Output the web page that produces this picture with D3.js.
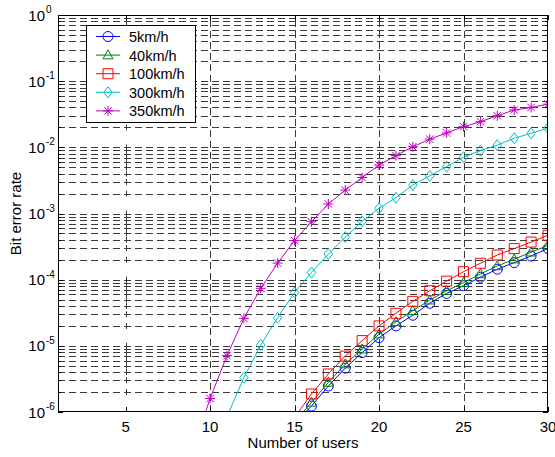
<!DOCTYPE html>
<html><head><meta charset="utf-8">
<script src="https://cdn.jsdelivr.net/npm/d3@7"></script>
<style>body{margin:0;background:#fff}svg{display:block}text{font-family:"Liberation Sans",Arial,sans-serif}</style>
</head><body><div id="chart"></div>
<script>
const users = [9,10,11,12,13,14,15,16,17,18,19,20,21,22,23,24,25,26,27,28,29,30];
const ber5   = [null,null,null,null,null,null,6.6e-7,1.23e-6,2.47e-6,4.6e-6,7.9e-6,1.33e-5,2.0e-5,2.9e-5,4.4e-5,6.2e-5,8.1e-5,1.09e-4,1.44e-4,1.81e-4,2.28e-4,2.95e-4];
const ber40  = [null,null,null,null,null,null,7.0e-7,1.4e-6,2.8e-6,5.3e-6,8.9e-6,1.5e-5,2.3e-5,3.4e-5,4.9e-5,6.8e-5,9.0e-5,1.22e-4,1.61e-4,2.04e-4,2.6e-4,3.3e-4];
const ber100 = [null,null,null,null,null,null,8.3e-7,1.87e-6,3.76e-6,7.0e-6,1.2e-5,2.0e-5,3.1e-5,4.7e-5,6.8e-5,9.5e-5,1.32e-4,1.77e-4,2.36e-4,2.95e-4,3.7e-4,4.7e-4];
const ber300 = [null,null,8.5e-7,3.3e-6,1.03e-5,2.66e-5,6.4e-5,1.28e-4,2.44e-4,4.4e-4,7.6e-4,1.2e-3,1.73e-3,2.7e-3,3.7e-3,5.1e-3,7.1e-3,8.9e-3,1.08e-2,1.37e-2,1.63e-2,1.94e-2];
const ber350 = [2.7e-7,1.6e-6,7.1e-6,2.6e-5,7.4e-5,1.78e-4,3.9e-4,7.5e-4,1.39e-3,2.26e-3,3.5e-3,5.4e-3,7.5e-3,1.02e-2,1.33e-2,1.65e-2,2.05e-2,2.44e-2,3.0e-2,3.67e-2,4.0e-2,4.5e-2];
const seriesNames = ["5km/h","40km/h","100km/h","300km/h","350km/h"];
const seriesValues = [ber5, ber40, ber100, ber300, ber350];
const seriesColors = ["#0000ff","#008000","#ff0000","#00bfbf","#bf00bf"];
const seriesMarkers = ["circle","triangle","square","diamond","star"];
const xTicks = [5,10,15,20,25,30];
const yDecades = [1e-6,1e-5,1e-4,1e-3,1e-2,1e-1,1e0];
const yExponents = ["-6","-5","-4","-3","-2","-1","0"];
const xDomain = [1,30];
const yDomain = [1e-6,1];

const W=555,H=457, m={l:58,r:7,t:15,b:45};
const FS=15;
const svg=d3.select("#chart").append("svg").attr("width",W).attr("height",H);
const x=d3.scaleLinear().domain(xDomain).range([m.l,W-m.r]);
const y=d3.scaleLog().domain(yDomain).range([H-m.b,m.t]);
const x0=x.range()[0],x1=x.range()[1],y0=y.range()[0],y1=y.range()[1];

svg.append("defs").append("clipPath").attr("id","clip").append("rect")
  .attr("x",x0).attr("y",y1).attr("width",x1-x0).attr("height",y0-y1);

const yGrid=[];
yDecades.forEach((d,i)=>{ if(i<yDecades.length-1){ for(let k=1;k<10;k++) yGrid.push(d*k);} else yGrid.push(d);});
const gridC="#3a3a3a";
const g=svg.append("g");
g.selectAll("line.hg").data(yGrid.filter(v=>v>yDomain[0]&&v<yDomain[1])).join("line")
  .attr("x1",x0).attr("x2",x1).attr("y1",d=>Math.round(y(d))+0.5).attr("y2",d=>Math.round(y(d))+0.5)
  .attr("stroke",gridC).attr("stroke-width",1).attr("stroke-dasharray","7,4");
g.selectAll("line.vg").data(xTicks.filter(v=>v>5&&v<30)).join("line")
  .attr("x1",d=>Math.round(x(d))+0.5).attr("x2",d=>Math.round(x(d))+0.5).attr("y1",y0).attr("y2",y1)
  .attr("stroke",gridC).attr("stroke-width",1).attr("stroke-dasharray","7,4");
g.selectAll("line.c5").data(yGrid.filter(v=>v>yDomain[0]&&v<yDomain[1])).join("line")
  .attr("x1",Math.round(x(5))+0.5).attr("x2",Math.round(x(5))+0.5)
  .attr("y1",d=>y(d)-3).attr("y2",d=>y(d)+3).attr("stroke",gridC);

const tk=svg.append("g").attr("stroke","#000");
xTicks.forEach(t=>{
  const xp=Math.round(x(t))+0.5;
  tk.append("line").attr("x1",xp).attr("x2",xp).attr("y1",y0).attr("y2",y0-5);
  tk.append("line").attr("x1",xp).attr("x2",xp).attr("y1",y1).attr("y2",y1+5);
});
yGrid.forEach(v=>{
  const yp=Math.round(y(v))+0.5;
  const L=yDecades.includes(v)?5:3;
  tk.append("line").attr("x1",x0).attr("x2",x0+L).attr("y1",yp).attr("y2",yp);
  tk.append("line").attr("x1",x1).attr("x2",x1-L).attr("y1",yp).attr("y2",yp);
});

function markerPath(type,s){
  switch(type){
    case "circle": return d3.symbol(d3.symbolCircle,Math.PI*s*s)();
    case "square": return `M${-s},${-s}H${s}V${s}H${-s}Z`;
    case "triangle": return `M0,${-s*1.05}L${s},${s*0.75}L${-s},${s*0.75}Z`;
    case "diamond": return `M0,${-s*1.1}L${s*0.85},0L0,${s*1.1}L${-s*0.85},0Z`;
    case "star": { const a=s*0.75; return `M0,${-s}V${s}M${-s},0H${s}M${-a},${-a}L${a},${a}M${-a},${a}L${a},${-a}`; }
  }
}

const plot=svg.append("g").attr("clip-path","url(#clip)");
seriesValues.forEach((vals,i)=>{
  const pts=users.map((u,j)=>({u,v:vals[j]})).filter(d=>d.v!=null);
  const line=d3.line().x(d=>x(d.u)).y(d=>y(d.v));
  plot.append("path").datum(pts).attr("d",line).attr("fill","none").attr("stroke",seriesColors[i]).attr("stroke-width",1);
  plot.selectAll(null).data(pts).join("path")
    .attr("transform",d=>`translate(${x(d.u)},${y(d.v)})`)
    .attr("d",markerPath(seriesMarkers[i],5))
    .attr("fill","none").attr("stroke",seriesColors[i]).attr("stroke-width",1);
});

svg.append("rect").attr("x",x0+0.5).attr("y",y1+0.5).attr("width",x1-x0-1).attr("height",y0-y1-1)
  .attr("fill","none").attr("stroke","#000").attr("stroke-width",1);

svg.selectAll("text.xt").data(xTicks).join("text")
  .attr("x",d=>x(d)).attr("y",y0+20).attr("text-anchor","middle").attr("font-size",FS).text(d=>d);
yDecades.forEach((d,i)=>{
  svg.append("text").attr("x",x0-13).attr("y",y(d)+5.5).attr("text-anchor","end").attr("font-size",FS).text("10");
  svg.append("text").attr("x",x0-12).attr("y",y(d)-2).attr("text-anchor","start").attr("font-size",10).text(yExponents[i]);
});
svg.append("text").attr("x",(x0+x1)/2).attr("y",H-9).attr("text-anchor","middle").attr("font-size",FS).text("Number of users");
svg.append("text").attr("transform",`translate(21,${(y0+y1)/2}) rotate(-90)`).attr("text-anchor","middle").attr("font-size",FS).text("Bit error rate");

const lg=svg.append("g");
lg.append("rect").attr("x",86.5).attr("y",25.5).attr("width",109).attr("height",97).attr("fill","#fff").attr("stroke","#000");
seriesNames.forEach((n,i)=>{
  const yy=36.5+i*18.6;
  lg.append("line").attr("x1",96).attr("x2",120).attr("y1",yy).attr("y2",yy).attr("stroke",seriesColors[i]);
  lg.append("path").attr("transform",`translate(108,${yy})`).attr("d",markerPath(seriesMarkers[i],5))
    .attr("fill","none").attr("stroke",seriesColors[i]);
  lg.append("text").attr("x",129).attr("y",yy+5.5).attr("font-size",14.5).text(n);
});
</script></body></html>
